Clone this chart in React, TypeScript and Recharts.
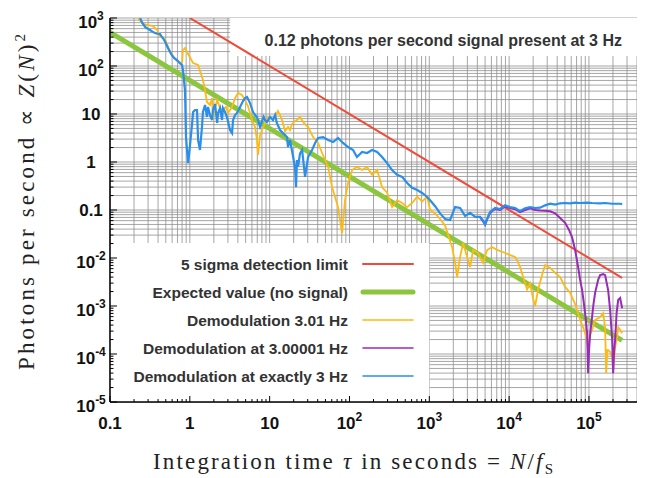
import React from "react";
import {
    LineChart,
    Line,
    XAxis,
    YAxis,
    CartesianGrid,
    ReferenceArea,
} from "recharts";

// axis decades and their labels [base, exponent]
const xDecades = [0.1, 1, 10, 100, 1e3, 1e4, 1e5];
const xDecadeLabels = [["0.1", ""], ["1", ""], ["10", ""], ["10", "2"], ["10", "3"], ["10", "4"], ["10", "5"]];
const yDecades = [1e-5, 1e-4, 1e-3, 1e-2, 0.1, 1, 10, 100, 1000];
const yDecadeLabels = [["10", "-5"], ["10", "-4"], ["10", "-3"], ["10", "-2"], ["0.1", ""], ["1", ""], ["10", ""], ["10", "2"], ["10", "3"]];
const mantissas = [1, 2, 3, 4, 5, 6, 7, 8, 9];
const xMax = 4e5;

const xTicks = xDecades.flatMap(d => mantissas.map(m => m * d)).filter(v => v < xMax * 0.99);
const yTicks = yDecades.flatMap(d => mantissas.map(m => m * d)).filter(v => v <= 1000);

// 5 sigma detection limit (straight on log-log)
const redTau = [1, 2.6e5];
const redRate = [1000, 3.85e-3];

// expected value, no signal
const greenTau = [0.1, 2.6e5];
const greenRate = [500, 1.92e-4];

// demodulation 3.01 Hz
const yellowTau = [
    0.224, 0.25, 0.29, 0.345, 0.39, 0.42, 0.49, 0.53, 0.565, 0.634, 0.69, 0.75, 0.8, 0.82, 0.87, 0.92,
    1.0, 1.1, 1.27, 1.46, 1.55, 1.64, 1.79, 1.9, 1.95, 2.07, 2.2, 2.39, 2.53, 2.84, 3.01, 3.38, 3.69,
    4.02, 4.5, 4.92, 5.4, 6.0, 6.56, 6.95, 7.16, 7.58, 8.03, 8.75, 9.27, 10.1, 11, 11.7, 12.7, 13.5,
    14.3, 15.6, 17, 18, 19.1, 20.8, 22, 24, 26.2, 30.3, 35, 40.4, 45.4, 49.5, 54, 60.5, 66, 72, 80.8,
    88, 96, 108, 124, 144, 166, 192, 222, 256, 296, 342, 395, 457, 528, 610, 705, 814, 940, 1024,
    1183, 1366, 1578, 1721, 1932, 2105, 2230, 2432, 2653, 2977, 3246, 3540, 4090, 4725, 5300, 6123,
    7072, 8170, 8910, 10290, 11880, 12590, 13730, 14970, 16810, 18330, 19990, 21180, 23090, 25910,
    28250, 32650, 37700, 43540, 50280, 58080, 67120, 77550, 84600, 94900, 97700, 103500, 109600,
    119600, 138000, 150600, 159600, 164300, 170000, 174100, 184500, 195400, 201100, 213000, 225700,
    232300, 246100, 260700,
];
const yellowRate = [
    1000, 787, 715, 681, 562, 422, 349, 260, 205, 150, 127, 115, 121, 215, 237, 196,
    154, 115, 105, 51, 31.6, 17.8, 15.4, 21.5, 7.5, 13.3, 19.6, 13.3, 12.1, 14, 10.5, 14, 21.5,
    27.4, 24.9, 19.6, 14, 7.5, 5.36, 2.87, 1.4, 3.65, 4.64, 6.5, 8.25, 8.66, 7.9, 8.66, 11.5, 9.5,
    7.5, 4.4, 5.36, 4.64, 6.2, 7.1, 7.5, 8.66, 6.8, 5.36, 3.3, 2.49, 1.54, 1.1, 0.79, 0.3, 0.187, 0.115, 0.033,
    0.16, 0.365, 0.68, 0.79, 0.68, 0.79, 0.54, 0.68, 0.3, 0.23, 0.115, 0.16, 0.14, 0.115, 0.14, 0.19, 0.15, 0.19, 0.1,
    0.085, 0.065, 0.047, 0.03, 0.017, 0.0079, 0.004, 0.0105, 0.0205, 0.0105, 0.0065, 0.0147, 0.0127, 0.0079, 0.0147, 0.017,
    0.0147, 0.0135, 0.0127, 0.0115, 0.0105, 0.009, 0.0065, 0.004, 0.0022, 0.003, 0.0014, 0.001, 0.0022, 0.0045,
    0.0071, 0.0062, 0.0049, 0.004, 0.0025, 0.0019, 0.0011, 0.00051, 0.00036, 0.0002, 0.00012, 0.00025, 0.00032,
    0.00051, 0.00059, 0.00071, 0.00035, 0.00004, 0.00012, 0.00012, 0.00011, 0.000087, 0.000046, 0.00014, 0.00023,
    0.00036, 0.00032, 0.00027,
];

// demodulation at 3.00001 Hz (hidden under the 3 Hz curve before ~4e3 s)
const purpleTau = [
    4333, 4725, 5004, 5300, 5780, 6677, 7712, 8910, 10290, 11880, 13730, 15860, 18330, 21180, 24460,
    28250, 32650, 37700, 43540, 50280, 56500, 61530, 67120, 73200, 77550, 82200, 86000, 90500, 94900,
    97700, 100600, 103500, 109600, 114000, 119600, 130400, 138000, 150600, 159600, 167000, 174100,
    184500, 195400, 201100, 207000, 213000, 222000, 232300, 246100, 260700,
];
const purpleRate = [
    0.07, 0.058, 0.05, 0.064, 0.088, 0.105, 0.1, 0.118, 0.11, 0.104, 0.09, 0.1, 0.108, 0.1, 0.098,
    0.097, 0.094, 0.085, 0.068, 0.054, 0.038, 0.027, 0.0147, 0.0065, 0.0035, 0.00215, 0.0012, 0.0006, 0.00027,
    0.00004, 0.00013, 0.00026, 0.0006, 0.0011, 0.0019, 0.0035, 0.0044, 0.0046, 0.0044, 0.003, 0.00215,
    0.0008, 0.0002, 0.00004, 0.00012, 0.0002, 0.0007, 0.00133, 0.00147, 0.0009,
];

// demodulation at exactly 3 Hz
const blueTau = [
    0.238, 0.255, 0.275, 0.295, 0.317, 0.34, 0.366, 0.39, 0.423, 0.44, 0.461, 0.49, 0.518, 0.54, 0.565,
    0.6, 0.634, 0.69, 0.75, 0.8, 0.82, 0.87, 0.896, 0.95, 1.0, 1.07, 1.1, 1.16, 1.23, 1.27, 1.34, 1.42,
    1.46, 1.55, 1.64, 1.69, 1.79, 1.9, 1.95, 2.07, 2.2, 2.26, 2.39, 2.53, 2.6, 2.76, 2.92, 3.19, 3.38,
    3.48, 3.69, 3.9, 4.26, 4.64, 4.92, 5.21, 5.68, 6.19, 6.56, 6.95, 7.58, 8.4, 8.75, 9.27, 10.1, 11,
    11.7, 12.3, 13.5, 14.7, 15.6, 16.5, 17, 18, 19.7, 20.8, 21.4, 22, 22.7, 24, 25.5, 27.8, 30.3, 34,
    37.1, 40.4, 46.7, 54, 62.3, 72, 83, 96, 111, 124, 144, 166, 192, 222, 256, 296, 342, 395, 457, 528,
    610, 705, 814, 940, 1024, 1183, 1366, 1578, 1823, 1988, 2105, 2432, 2811, 3246, 3750, 4333, 4725,
    5004, 5300, 5780, 6677, 7712, 8910, 10290, 11880, 13730, 15860, 18330, 21180, 24460, 28250, 32650,
    37700, 43540, 50280, 58080, 67120, 77550, 94900, 109600, 138000, 159600, 195400, 246100, 260700,
];
const blueRate = [
    1000, 780, 650, 600, 562, 520, 487, 470, 464, 420, 383, 320, 261, 225, 196,
    165, 147, 133, 115, 105, 82, 31.6, 3.3, 0.95, 2.05, 6.5, 11, 12.1, 12.1, 2.87, 1.78, 5.36,
    11, 15.4, 8.66, 14, 9.5, 7.5, 12.1, 16, 6.5, 10.5, 13.3, 7.5, 13.3, 11, 8.66, 4.64, 4.0,
    7.5, 9.5, 10.5, 14, 18.6, 21.5, 22.6, 16.9, 11, 9.5, 8.66, 5.36, 8.66, 7.5, 6.8, 8.66, 7.5,
    9.5, 6.5, 4.64, 4.0, 3.65, 3.3, 2.05, 2.87, 1.27, 0.75, 0.3, 1.1, 0.79, 1.5, 1.78, 0.49, 1.27, 1.78,
    2.49, 3.16, 3.3, 2.87, 2.61, 3.16, 2.49, 2.05, 1.78, 1.27, 1.62, 1.54, 1.78, 1.62, 1.27, 0.95, 0.68, 0.54, 0.49, 0.365,
    0.29, 0.26, 0.226, 0.187, 0.16, 0.12, 0.085, 0.065, 0.062, 0.09, 0.115, 0.11, 0.075, 0.087, 0.072, 0.072, 0.06,
    0.05, 0.065, 0.091, 0.11, 0.105, 0.125, 0.115, 0.11, 0.095, 0.108, 0.115, 0.11, 0.112, 0.125, 0.135,
    0.13, 0.138, 0.14, 0.138, 0.142, 0.14, 0.143, 0.14, 0.138, 0.14, 0.135, 0.135, 0.133,
];

const toPoints = (tau: number[], rate: number[]) => tau.map((t, i) => ({ tau: t, rate: rate[i] }));

const series = [
    { name: "5 sigma detection limit", color: "#F04A3A", width: 2, legendWidth: 2, data: toPoints(redTau, redRate) },
    { name: "Expected value (no signal)", color: "#8CC63F", width: 5, legendWidth: 5, data: toPoints(greenTau, greenRate) },
    { name: "Demodulation 3.01 Hz", color: "#FDBA12", width: 1.8, legendWidth: 1.5, data: toPoints(yellowTau, yellowRate) },
    { name: "Demodulation at 3.00001 Hz", color: "#9A2AB8", width: 2, legendWidth: 1.5, data: toPoints(purpleTau, purpleRate) },
    { name: "Demodulation at exactly 3 Hz", color: "#2A8FEA", width: 2.2, legendWidth: 1.5, data: toPoints(blueTau, blueRate) },
];

const SANS = "'Liberation Sans', Arial, sans-serif";
const SERIF = "'Liberation Serif', 'Times New Roman', serif";

const decadeIndex = (decades: number[], v: number) =>
    decades.findIndex(d => Math.abs(d - v) / d < 1e-6);

function TickLabel({ x, y, label }: { x: number; y: number; label: string[] }) {
    return (
        <text x={x} y={y} textAnchor="middle" fontFamily={SANS} fontWeight="bold" fontSize={17} fill="#111">
            {label[0]}
            {label[1] && <tspan dy={-8} fontSize={12}>{label[1]}</tspan>}
        </text>
    );
}

function BottomTick({ x, y, payload }: any) {
    const i = decadeIndex(xDecades, payload.value);
    return (
        <g>
            <line x1={x} x2={x} y1={y} y2={y - (i >= 0 ? 6 : 3)} stroke="#000" strokeWidth={1} />
            {i >= 0 && <TickLabel x={x} y={y + 27} label={xDecadeLabels[i]} />}
        </g>
    );
}

function TopTick({ x, y, payload }: any) {
    const major = decadeIndex(xDecades, payload.value) >= 0;
    return <line x1={x} x2={x} y1={y} y2={y + (major ? 6 : 3)} stroke="#333" strokeWidth={1} />;
}

function LeftTick({ x, y, payload }: any) {
    const i = decadeIndex(yDecades, payload.value);
    return (
        <g>
            <line x1={x} x2={x + (i >= 0 ? 7 : 3.5)} y1={y} y2={y} stroke="#000" strokeWidth={1} />
            {i >= 0 && <TickLabel x={x - 19} y={y + (yDecadeLabels[i][1] ? 10 : 6)} label={yDecadeLabels[i]} />}
        </g>
    );
}

function RightTick({ x, y, payload }: any) {
    const major = decadeIndex(yDecades, payload.value) >= 0;
    return <line x1={x} x2={x - (major ? 7 : 3.5)} y1={y} y2={y} stroke="#333" strokeWidth={1} />;
}

export default function App() {
    return (
        <div style={{ position: "relative", width: 637, height: 470 }}>
            <LineChart width={637} height={470} margin={{ top: 10, right: 8, bottom: 0, left: 0 }}>
                <CartesianGrid stroke="#8f8f8f" strokeWidth={0.8} />
                {/* white boxes behind legend and note */}
                <ReferenceArea x1={0.1} x2={1000} y1={1e-5} y2={0.0205} fill="#fff" fillOpacity={1} stroke="none" />
                <ReferenceArea x1={3.2} x2={xMax} y1={162} y2={1000} fill="#fff" fillOpacity={1} stroke="none" />
                {series.map(s => (
                    <Line
                        key={s.name}
                        data={s.data}
                        dataKey="rate"
                        name={s.name}
                        type="linear"
                        stroke={s.color}
                        strokeWidth={s.width}
                        dot={false}
                        activeDot={false}
                        isAnimationActive={false}
                    />
                ))}
                <XAxis
                    type="number"
                    dataKey="tau"
                    scale="log"
                    domain={[0.1, xMax]}
                    allowDataOverflow
                    ticks={xTicks}
                    interval={0}
                    tick={<BottomTick />}
                    tickSize={0}
                    tickMargin={0}
                    tickLine={false}
                    axisLine={{ stroke: "#000", strokeWidth: 1.5 }}
                    height={76}
                />
                <XAxis
                    xAxisId="top"
                    orientation="top"
                    type="number"
                    dataKey="tau"
                    scale="log"
                    domain={[0.1, xMax]}
                    allowDataOverflow
                    ticks={xTicks}
                    interval={0}
                    tick={<TopTick />}
                    tickSize={0}
                    tickMargin={0}
                    tickLine={false}
                    axisLine={{ stroke: "#333", strokeWidth: 1 }}
                    height={0}
                />
                <YAxis
                    type="number"
                    dataKey="rate"
                    scale="log"
                    domain={[1e-5, 1000]}
                    allowDataOverflow
                    ticks={yTicks}
                    interval={0}
                    tick={<LeftTick />}
                    tickSize={0}
                    tickMargin={0}
                    tickLine={false}
                    axisLine={{ stroke: "#000", strokeWidth: 1.5 }}
                    width={102}
                />
                <YAxis
                    yAxisId="right"
                    orientation="right"
                    type="number"
                    dataKey="rate"
                    scale="log"
                    domain={[1e-5, 1000]}
                    allowDataOverflow
                    ticks={yTicks}
                    interval={0}
                    tick={<RightTick />}
                    tickSize={0}
                    tickMargin={0}
                    tickLine={false}
                    axisLine={{ stroke: "#333", strokeWidth: 1 }}
                    width={0}
                />
            </LineChart>
            <svg
                width={637}
                height={470}
                style={{ position: "absolute", left: 0, top: 0, pointerEvents: "none" }}
            >
                <text x={614} y={38} textAnchor="end" fontFamily={SANS} fontWeight="bold" fontSize={16} fill="#333">
                    0.12 photons per second signal present at 3 Hz
                </text>
                {series.map((s, i) => (
                    <g key={s.name}>
                        <text x={340} y={256 + i * 28 + 5.5} textAnchor="end" fontFamily={SANS} fontWeight="bold" fontSize={15.5} fill="#333">
                            {s.name}
                        </text>
                        <line x1={355} x2={405} y1={256 + i * 28} y2={256 + i * 28} stroke={s.color} strokeWidth={s.legendWidth} strokeLinecap="round" />
                    </g>
                ))}
                <text x={345} y={461} textAnchor="middle" fontFamily={SERIF} fontSize={23} fill="#222" textLength={400} lengthAdjust="spacing">
                    Integration time <tspan fontStyle="italic">τ</tspan> in seconds = <tspan fontStyle="italic">N</tspan>/<tspan fontStyle="italic">f</tspan><tspan fontSize={15} dy={5}>S</tspan>
                </text>
                <text
                    x={0}
                    y={0}
                    transform="translate(26 194) rotate(-90)"
                    textAnchor="middle"
                    fontFamily={SERIF}
                    fontSize={23}
                    fill="#222"
                    textLength={336}
                    lengthAdjust="spacing"
                >
                    Photons per second  ∝  <tspan fontStyle="italic">Z</tspan>(<tspan fontStyle="italic">N</tspan>)<tspan fontSize={15} dy={-9}>2</tspan>
                </text>
            </svg>
        </div>
    );
}
